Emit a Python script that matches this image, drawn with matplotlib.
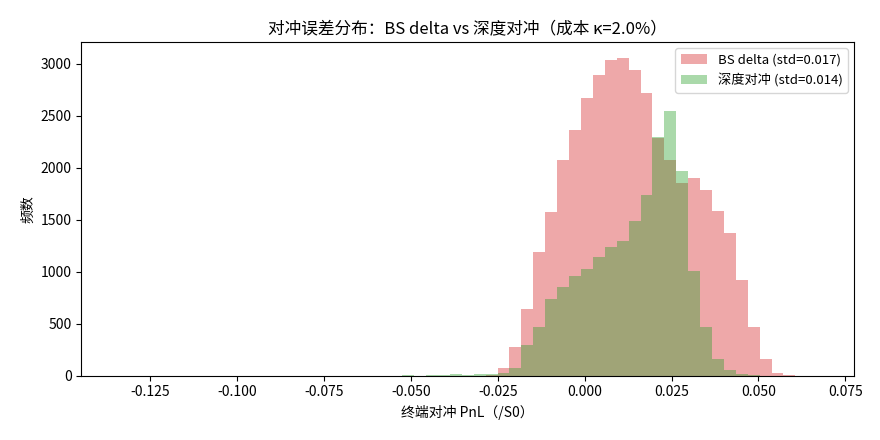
import numpy as np
import matplotlib
matplotlib.use("Agg")
import matplotlib.pyplot as plt

plt.rcParams['font.family'] = ['Noto Sans CJK SC', 'DejaVu Sans']
plt.rcParams['axes.unicode_minus'] = False

# shared bin range and number of bins
x_min, x_max, n_bins = -0.1348, 0.0675, 59

# counts per bin (index 0 .. 58); non-listed bins are zero
bs_start = 31
bs_counts = [8, 74, 278, 643, 1188, 1572, 2071, 2359, 2676, 2897, 3041, 3060,
             2945, 2724, 2285, 2071, 1853, 1898, 1783, 1582, 1370, 919, 465,
             160, 29, 7]
deep_start = 24
deep_counts = [5, 0, 4, 4, 12, 5, 12, 15, 29, 74, 298, 471, 740, 852, 957,
               1025, 1140, 1236, 1293, 1486, 1735, 2300, 2542, 1966, 1009,
               465, 160, 55, 16, 5]

labels = ['BS delta (std=0.017)', '深度对冲 (std=0.014)']
colors = ['tab:red', 'tab:green']

edges = np.linspace(x_min, x_max, n_bins + 1)
centers = (edges[:-1] + edges[1:]) / 2

def full(start, vals):
    arr = np.zeros(n_bins)
    arr[start:start + len(vals)] = vals
    return arr

fig = plt.figure(figsize=(8.8, 4.4), dpi=100)
ax = fig.add_axes([0.0924, 0.1461, 0.8784, 0.7591])

for start, vals, lab, col in [(bs_start, bs_counts, labels[0], colors[0]),
                              (deep_start, deep_counts, labels[1], colors[1])]:
    ax.hist(centers, bins=edges, weights=full(start, vals), color=col,
            alpha=0.4, label=lab)

ax.set_title('对冲误差分布：BS delta vs 深度对冲（成本 κ=2.0%）', fontsize=12)
ax.set_xlabel('终端对冲 PnL（/S0）', fontsize=10)
ax.set_ylabel('频数', fontsize=10)
ax.set_yticks([0, 500, 1000, 1500, 2000, 2500, 3000])
ax.legend(loc='upper right', fontsize=9.5)

fig.savefig('out.png', dpi=100)
